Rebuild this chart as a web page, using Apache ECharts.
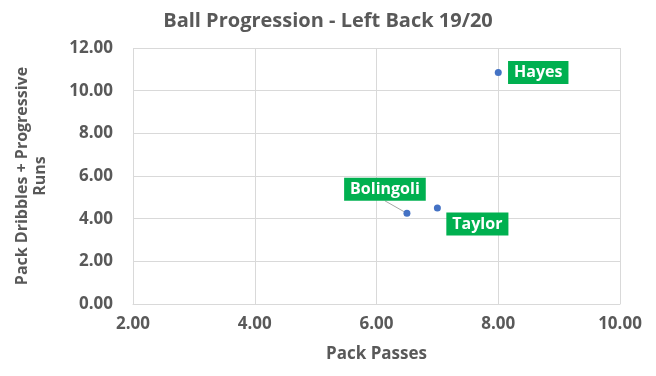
<!DOCTYPE html>
<html>
<head>
<meta charset="utf-8">
<script src="https://cdn.jsdelivr.net/npm/echarts@6/dist/echarts.min.js"></script>
<style>
  html, body { margin: 0; padding: 0; background: #fff; }
  #chart { width: 656px; height: 376px; }
</style>
</head>
<body>
<div id="chart"></div>
<script>
  var players = ['Hayes', 'Bolingoli', 'Taylor']
  var packPasses = [8.0, 6.5, 7.0]
  var packDribbles = [10.85, 4.25, 4.5]
  // label offsets from the dot (dx, dy)
  var labelShift = [[40, 0], [-22, -24], [40, 16]]

  var fontFam = '"Open Sans", sans-serif'
  var grey = '#595959'
  var heavy = 'bold'

  var chart = echarts.init(document.getElementById('chart'))
  chart.setOption({
    animation: false,
    title: {
      text: 'Ball Progression - Left Back 19/20',
      left: 'center',
      top: 6,
      textStyle: { color: grey, fontSize: 20, fontWeight: heavy, fontFamily: fontFam }
    },
    grid: { left: 133, right: 36, top: 48, bottom: 72 },
    xAxis: {
      type: 'value',
      min: 2,
      max: 10,
      interval: 2,
      name: 'Pack Passes',
      nameLocation: 'middle',
      nameGap: 42,
      nameTextStyle: { color: grey, fontSize: 17, fontWeight: heavy, fontFamily: fontFam },
      axisLine: { show: true, lineStyle: { color: '#d9d9d9' } },
      axisTick: { show: false },
      axisLabel: {
        color: grey, fontSize: 17, fontWeight: heavy, fontFamily: fontFam, margin: 12,
        formatter: function (v) { return v.toFixed(2) }
      },
      splitLine: { lineStyle: { color: '#d9d9d9' } }
    },
    yAxis: {
      type: 'value',
      min: 0,
      max: 12,
      interval: 2,
      name: 'Pack Dribbles + Progressive\nRuns',
      nameLocation: 'middle',
      nameGap: 84,
      nameTextStyle: { color: grey, fontSize: 16, fontWeight: heavy, fontFamily: fontFam, lineHeight: 18 },
      axisLine: { show: false },
      axisTick: { show: false },
      axisLabel: {
        color: grey, fontSize: 17, fontWeight: heavy, fontFamily: fontFam, margin: 20,
        formatter: function (v) { return v.toFixed(2) }
      },
      splitLine: { lineStyle: { color: '#d9d9d9' } }
    },
    series: [
      {
        type: 'scatter',
        symbolSize: 7,
        itemStyle: { color: '#4472C4', opacity: 1 },
        data: players.map(function (p, i) {
          return {
            name: p,
            value: [packPasses[i], packDribbles[i]],
            labelLine: { show: p === 'Bolingoli', lineStyle: { color: '#a6a6a6', width: 1 } }
          }
        }),
        label: {
          show: true,
          position: 'inside',
          formatter: '{b}',
          color: '#fff',
          opacity: 1,
          fontSize: 16,
          fontWeight: heavy,
          fontFamily: fontFam,
          backgroundColor: '#00B050',
          padding: [4, 6, 3, 6]
        },
        labelLayout: function (params) {
          var s = labelShift[params.dataIndex]
          return { dx: s[0], dy: s[1] }
        },
        emphasis: { disabled: true }
      }
    ]
  })
</script>
</body>
</html>
